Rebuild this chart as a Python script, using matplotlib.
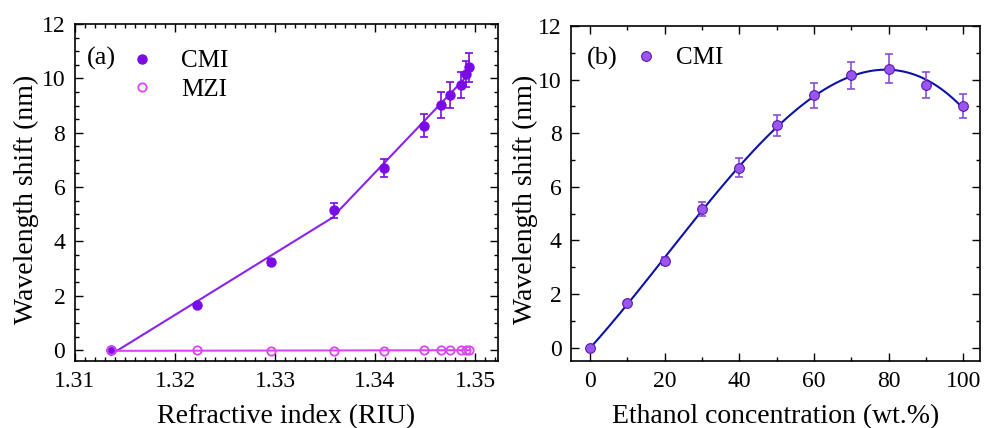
import numpy as np
import matplotlib
matplotlib.use("Agg")
import matplotlib.pyplot as plt
from matplotlib.ticker import MultipleLocator, FormatStrFormatter

plt.rcParams['font.family'] = ['Liberation Serif', 'DejaVu Serif']

# ---- data ----
# (a) refractive index sweep
ri = [1.3136, 1.3222, 1.3296, 1.3359, 1.3409, 1.3449, 1.3466, 1.3475, 1.3486, 1.3491, 1.3494]
cmi_shift = [0.0, 1.65, 3.24, 5.14, 6.70, 8.26, 9.02, 9.40, 9.76, 10.15, 10.40]
cmi_err = [0.03, 0.05, 0.12, 0.26, 0.33, 0.42, 0.46, 0.48, 0.49, 0.48, 0.52]
mzi_shift = [0.0, -0.01, -0.04, -0.04, -0.04, -0.01, 0.0, 0.0, 0.01, 0.02, 0.02]

# (b) ethanol concentration sweep
conc = [0, 10, 20, 30, 40, 50, 60, 70, 80, 90, 100]
conc_shift = [0.0, 1.67, 3.24, 5.16, 6.72, 8.29, 9.41, 10.16, 10.41, 9.79, 9.03]
conc_err = [0.03, 0.06, 0.15, 0.26, 0.34, 0.40, 0.48, 0.50, 0.53, 0.49, 0.45]

c_cmi = '#7a0be6'
c_cmi_line = '#8a22f0'
c_mzi = '#dc45f5'
c_b_face = '#9b55f2'
c_b_edge = '#5c1aa8'
c_b_err = '#8a4fd6'
c_b_line = '#0c12a6'

fig = plt.figure(figsize=(9.87, 4.28), dpi=100)
ax1 = fig.add_axes([0.076, 0.1565, 0.4286, 0.7874])
ax2 = fig.add_axes([0.579, 0.1565, 0.414, 0.7827])

# ---- panel (a) ----
x = np.array(ri)
y = np.array(cmi_shift)
# two linear segments
p1 = np.polyfit(x[:4], y[:4], 1)
p2 = np.polyfit(x[3:], y[3:], 1)
xs1 = np.linspace(x[0], x[3], 50)
xs2 = np.linspace(x[3], x[-1], 50)
ax1.plot(xs1, np.polyval(p1, xs1), color=c_cmi_line, lw=1.5)
ax1.plot(xs2, np.polyval(p2, xs2), color=c_cmi_line, lw=1.5)
pm = np.polyfit(x, mzi_shift, 1)
ax1.plot(x, np.polyval(pm, x), color=c_mzi, lw=1.5)

ax1.errorbar(ri, cmi_shift, yerr=cmi_err, fmt='none', ecolor=c_cmi, elinewidth=1.2, capsize=3, capthick=1.2)
ax1.plot(ri, cmi_shift, 'o', color=c_cmi, ms=6.5, label='CMI')
ax1.plot(ri, mzi_shift, 'o', mfc='none', mec=c_mzi, mew=1.3, ms=6, label='MZI')

ax1.set_xlim(1.31, 1.3523)
ax1.set_ylim(-0.4, 12)
ax1.xaxis.set_major_locator(MultipleLocator(0.01))
ax1.xaxis.set_minor_locator(MultipleLocator(0.001))
ax1.xaxis.set_major_formatter(FormatStrFormatter('%.2f'))
ax1.yaxis.set_major_locator(MultipleLocator(2))
ax1.yaxis.set_minor_locator(MultipleLocator(0.5))
ax1.set_xlabel('Refractive index (RIU)', fontsize=20, labelpad=9)
ax1.set_ylabel('Wavelength shift (nm)', fontsize=20)
ax1.yaxis.set_label_coords(-0.085, 0.48)
ax1.text(0.028, 0.899, '(a)', transform=ax1.transAxes, fontsize=19, va='center', ha='left')
ax1.legend(loc='center left', bbox_to_anchor=(0.123, 0.847), frameon=False, fontsize=18,
           handletextpad=0.96, labelspacing=0.25, handlelength=1.2,
           borderpad=0, borderaxespad=0)

# ---- panel (b) ----
pb = np.polyfit(conc, conc_shift, 3)
xb = np.linspace(conc[0], conc[-1], 200)
ax2.plot(xb, np.polyval(pb, xb), color=c_b_line, lw=1.5)
ax2.errorbar(conc, conc_shift, yerr=conc_err, fmt='none', ecolor=c_b_err, elinewidth=1.2, capsize=3, capthick=1.2)
ax2.plot(conc, conc_shift, 'o', mfc=c_b_face, mec=c_b_edge, mew=0.8, ms=7, label='CMI')

ax2.set_xlim(-5, 104.5)
ax2.set_ylim(-0.5, 12)
ax2.xaxis.set_major_locator(MultipleLocator(20))
ax2.xaxis.set_minor_locator(MultipleLocator(10))
ax2.yaxis.set_major_locator(MultipleLocator(2))
ax2.yaxis.set_minor_locator(MultipleLocator(1))
ax2.set_xlabel('Ethanol concentration (wt.%)', fontsize=20, labelpad=9)
ax2.set_ylabel('Wavelength shift (nm)', fontsize=20)
ax2.yaxis.set_label_coords(-0.083, 0.482)
ax2.text(0.038, 0.904, '(b)', transform=ax2.transAxes, fontsize=19, va='center', ha='left')
ax2.legend(loc='center left', bbox_to_anchor=(0.146, 0.904), frameon=False, fontsize=18,
           handletextpad=0.6, handlelength=1.2, borderpad=0, borderaxespad=0)

for ax in (ax1, ax2):
    ax.tick_params(which='both', direction='in', top=True, right=True, labelsize=17, pad=7)
    ax.tick_params(which='major', length=6, width=1)
    ax.tick_params(which='minor', length=3, width=1)
    for s in ax.spines.values():
        s.set_linewidth(1.2)

fig.savefig('out.png', dpi=100)
